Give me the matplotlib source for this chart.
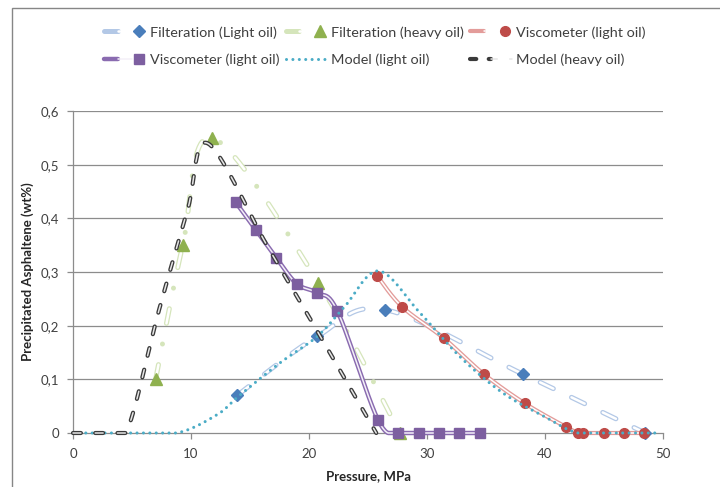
import numpy as np
import matplotlib
matplotlib.use('Agg')
import matplotlib.pyplot as plt
from matplotlib.lines import Line2D
from matplotlib.legend_handler import HandlerTuple
from matplotlib.patches import Rectangle

plt.rcParams['font.family'] = ['Lato', 'DejaVu Sans']
plt.rcParams['lines.scale_dashes'] = False

# filtration measurements
filt_light_p = [13.9, 20.7, 26.4, 38.1, 48.5]
filt_light_w = [0.07, 0.18, 0.23, 0.11, 0.0]
filt_heavy_p = [7.0, 9.3, 11.8, 20.8, 27.7]
filt_heavy_w = [0.10, 0.35, 0.55, 0.28, 0.0]

# viscometer measurements
visc_red_p = [25.8, 27.9, 31.4, 34.8, 38.3, 41.8, 42.8, 43.2, 45.0, 46.7, 48.4]
visc_red_w = [0.292, 0.235, 0.177, 0.110, 0.055, 0.011, 0.0, 0.0, 0.0, 0.0, 0.0]
visc_pur_p = [13.79, 15.51, 17.24, 18.96, 20.68, 22.41, 25.86, 27.58, 29.30, 31.03, 32.75, 34.47]
visc_pur_w = [0.430, 0.378, 0.326, 0.278, 0.261, 0.227, 0.024, 0.0, 0.0, 0.0, 0.0, 0.0]

# model curves
model_light_p = [0, 4.5, 8.8, 12.2, 14.0, 17.5, 20.7, 23.0, 25.9, 29.4, 32.8, 36.4, 40.0, 42.8, 46.0, 49.7]
model_light_w = [0, 0, 0, 0.034, 0.068, 0.13, 0.18, 0.235, 0.302, 0.224, 0.142, 0.075, 0.03, 0, 0, 0]
model_heavy_p = [0, 2.5, 4.5, 7.3, 9.7, 11.4, 16.5, 20.3, 25.7]
model_heavy_w = [0, 0, 0, 0.23, 0.415, 0.54, 0.347, 0.205, 0.0]

labels = ['Filteration (Light oil)', 'Filteration (heavy oil)', 'Viscometer (light oil)',
          'Viscometer (light oil)', 'Model (light oil)', 'Model (heavy oil)']
xticks = [0, 10, 20, 30, 40, 50]
yticks = [0, 0.1, 0.2, 0.3, 0.4, 0.5, 0.6]
ytick_labels = ['0', '0,1', '0,2', '0,3', '0,4', '0,5', '0,6']

# colours
c_fl, c_fl_mk = '#b3c8e6', '#4a7ebb'
c_fh, c_fh_mk = '#d5e5bb', '#8fb14f'
c_vr, c_vr_mk = '#e39c9a', '#be4b48'
c_vp, c_vp_mk = '#8a6bb0', '#7d5fa0'
c_ml = '#4bacc6'
c_mh = '#3a3a3a'
grid_c = '#8c8c8c'


def smooth(x, y, n=24):
    # bezier smoothing through the points, catmull-rom style tangents
    pts = np.column_stack([x, y]).astype(float)
    ext = np.vstack([pts[0], pts, pts[-1]])
    t = np.linspace(0, 1, n)[:, None]
    out = []
    for i in range(len(pts) - 1):
        p0, p1 = ext[i + 1], ext[i + 2]
        c1 = p0 + (ext[i + 2] - ext[i]) / 6
        c2 = p1 - (ext[i + 3] - ext[i + 1]) / 6
        seg = (1 - t) ** 3 * p0 + 3 * (1 - t) ** 2 * t * c1 + 3 * (1 - t) * t ** 2 * c2 + t ** 3 * p1
        out.append(seg if i == 0 else seg[1:])
    out = np.vstack(out)
    # nothing precipitates below zero
    return out[:, 0], np.maximum(out[:, 1], 0)


def double_line(ax, x, y, color, lw_out, lw_in, inner='white', ls_out='-', ls_in='-', z=2):
    sx, sy = smooth(x, y)
    ax.plot(sx, sy, color=color, lw=lw_out, ls=ls_out, dash_capstyle='round',
            solid_capstyle='round', clip_on=False, zorder=z)
    ax.plot(sx, sy, color=inner, lw=lw_in, ls=ls_in, dash_capstyle='round',
            solid_capstyle='round', clip_on=False, zorder=z)


def key(color, lw_out, lw_in, inner='white', ls_out='-', ls_in='-', marker=None, mcolor=None, ms=6):
    # proxy artists for the legend keys
    parts = [Line2D([], [], color=color, lw=lw_out, ls=ls_out, dash_capstyle='round',
                    solid_capstyle='round')]
    if lw_in:
        parts.append(Line2D([], [], color=inner, lw=lw_in, ls=ls_in, dash_capstyle='round',
                            solid_capstyle='round'))
    if marker:
        parts.append(Line2D([], [], ls='none', marker=marker, color=mcolor, ms=ms))
    return tuple(parts)


fig = plt.figure(figsize=(7.2, 4.87), dpi=100)
ax = fig.add_axes([73 / 720, 1 - 433 / 487, 590 / 720, 322 / 487])

for v in yticks[1:]:
    ax.axhline(v, color=grid_c, lw=0.9, zorder=1)

# Filteration (Light oil)
double_line(ax, filt_light_p, filt_light_w, c_fl, 3.6, 1.8,
            ls_out=(0, (10.5, 14.5)), ls_in=(0, (10.5, 14.5)), z=3)
ax.plot(filt_light_p, filt_light_w, ls='none', marker='D', ms=6, color=c_fl_mk,
        clip_on=False, zorder=3.5)

# Filteration (heavy oil)
double_line(ax, filt_heavy_p, filt_heavy_w, c_fh, 3.6, 1.8,
            ls_out=(0, (10.8, 15.1, 0.01, 15.1)), ls_in=(0, (10.8, 30.21)), z=4)
ax.plot(filt_heavy_p, filt_heavy_w, ls='none', marker='^', ms=8, color=c_fh_mk,
        clip_on=False, zorder=4.5)

# Viscometer (light oil), red
double_line(ax, visc_red_p, visc_red_w, c_vr, 3.0, 1.1, z=5)
ax.plot(visc_red_p, visc_red_w, ls='none', marker='o', ms=7, color=c_vr_mk,
        clip_on=False, zorder=5.5)

# Viscometer (light oil), purple
double_line(ax, visc_pur_p, visc_pur_w, c_vp, 3.2, 1.1, inner='#f4f0f8', z=6)
ax.plot(visc_pur_p, visc_pur_w, ls='none', marker='s', ms=6.5, color=c_vp_mk,
        clip_on=False, zorder=6.5)

# Model (light oil)
sx, sy = smooth(model_light_p, model_light_w)
ax.plot(sx, sy, color=c_ml, lw=2.2, ls=(0, (0.01, 4.6)), dash_capstyle='round',
        clip_on=False, zorder=7)

# Model (heavy oil)
double_line(ax, model_heavy_p, model_heavy_w, c_mh, 3.0, 1.1, inner='#e6e6e6',
            ls_out=(0, (5.7, 10.3)), ls_in=(0, (5.7, 10.3)), z=8)

ax.set_xlim(0, 50)
ax.set_ylim(0, 0.6)
ax.set_xticks(xticks)
ax.set_yticks(yticks)
ax.set_yticklabels(ytick_labels)
for s in ['top', 'right']:
    ax.spines[s].set_visible(False)
for s in ['left', 'bottom']:
    ax.spines[s].set_color(grid_c)
    ax.spines[s].set_linewidth(0.9)
    ax.spines[s].set_zorder(1.5)
ax.tick_params(direction='out', length=4, width=0.9, color=grid_c, labelsize=9.5,
               labelcolor='#404040')
ax.tick_params(axis='x', pad=7)
ax.tick_params(axis='y', pad=6)

fig.text(368 / 720, 1 - 476 / 487, 'Pressure, MPa', ha='center', va='center',
         fontsize=9.5, fontweight='bold', color='#262626')
fig.text(28 / 720, 1 - 272 / 487, 'Precipitated Asphaltene (wt%)', ha='center', va='center',
         rotation=90, fontsize=9.5, fontweight='bold', color='#262626')

# legend, filled column by column
k_fl = key(c_fl, 3.6, 1.8, ls_out=(0, (12, 9)), ls_in=(0, (12, 9)), marker='D', mcolor=c_fl_mk)
k_fh = key(c_fh, 3.6, 1.8, ls_out=(0, (12, 7, 0.01, 30)), ls_in=(0, (12, 40)),
           marker='^', mcolor=c_fh_mk, ms=8)
k_vr = key(c_vr, 3.0, 1.1, marker='o', mcolor=c_vr_mk, ms=7)
k_vp = key(c_vp, 3.2, 1.1, inner='#f4f0f8', marker='s', mcolor=c_vp_mk, ms=6.5)
k_ml = key(c_ml, 2.2, 0, ls_out=(0, (0.01, 4.6)))
k_mh = key(c_mh, 3.0, 1.1, inner='#e6e6e6', ls_out=(2, (6.5, 9)), ls_in=(2, (6.5, 9)))
handles = [k_fl, k_vp, k_fh, k_ml, k_vr, k_mh]
leg_labels = [labels[0], labels[3], labels[1], labels[4], labels[2], labels[5]]
fig.legend(handles, leg_labels, ncol=3, loc='upper left', numpoints=1,
           bbox_to_anchor=(104 / 720, 1 - 26 / 487), frameon=False,
           handler_map={tuple: HandlerTuple(ndivide=None)}, handlelength=2.9,
           handletextpad=0.25, columnspacing=0.45, labelspacing=1.03, fontsize=10.4,
           borderpad=0, borderaxespad=0, labelcolor='#404040')

fig.patches.append(Rectangle((12 / 720, -0.1), 2, 1.1 - 8 / 487, transform=fig.transFigure,
                             fill=False, edgecolor='#868686', lw=1))

fig.savefig('out.png', dpi=100)
